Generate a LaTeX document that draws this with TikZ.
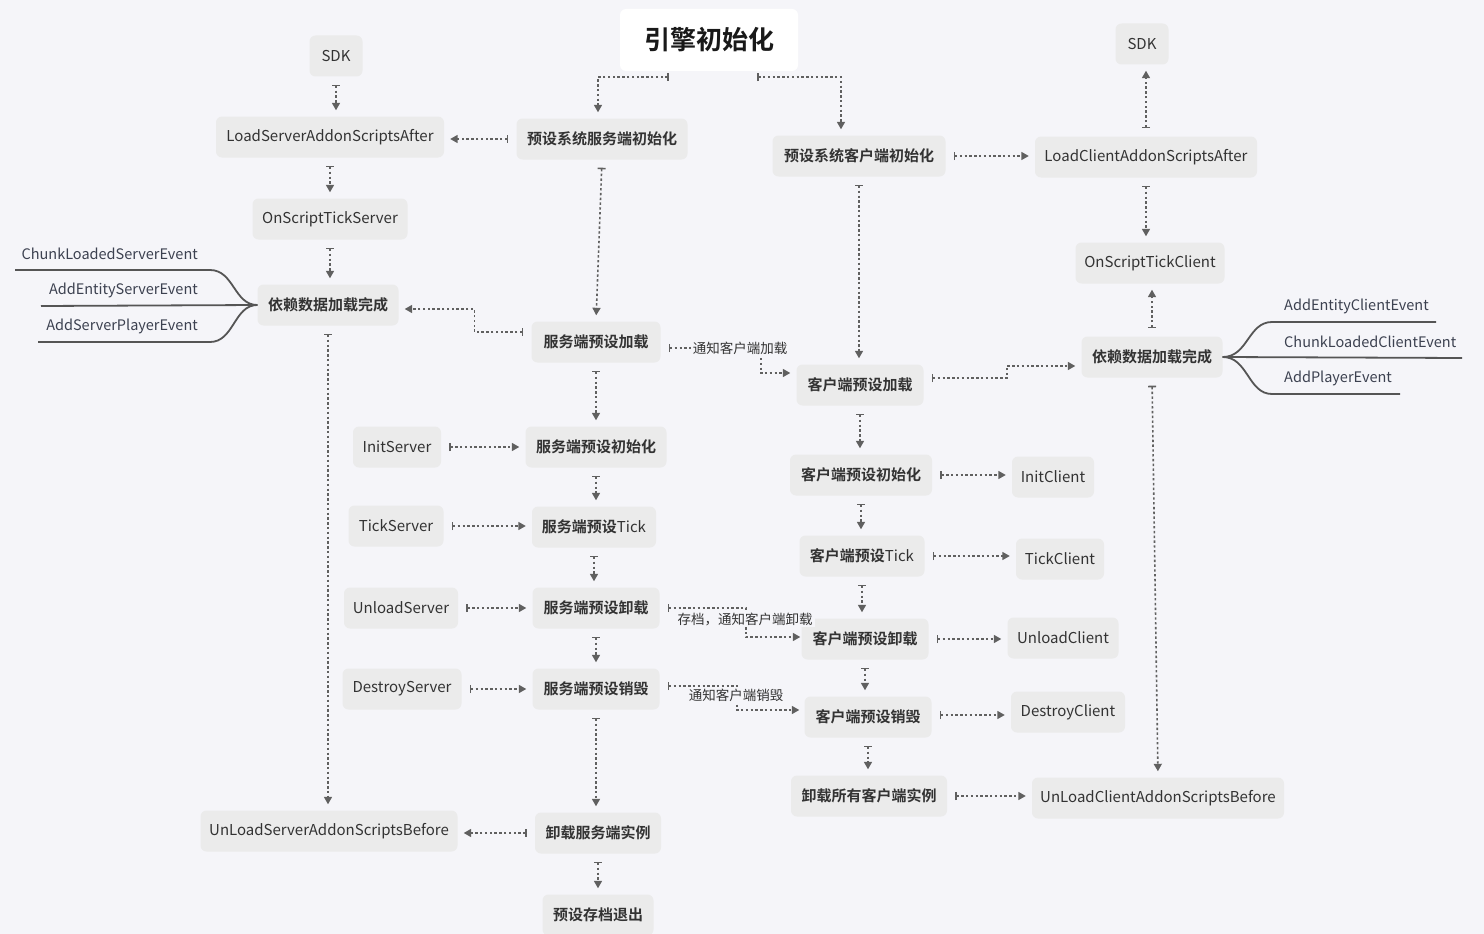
\documentclass[tikz,border=0pt]{standalone}
\usepackage{fontspec}
\setmainfont{Noto Sans CJK SC}[BoldFont={Noto Sans CJK SC Bold}]
\usetikzlibrary{arrows.meta,calc}
\definecolor{bg}{HTML}{F5F5F9}
\definecolor{nf}{HTML}{EBEBEB}
\definecolor{tx}{HTML}{333333}
\definecolor{lc}{HTML}{606060}
\definecolor{tr}{HTML}{555555}
\definecolor{evc}{HTML}{3C4150}
\begin{document}
\begin{tikzpicture}[x=1pt,y=-1pt,
 box/.style={rounded corners=6pt, fill=nf, text=tx, minimum height=41pt, inner sep=0pt, font=\fontsize{15}{18}\selectfont},
 zh/.style={box, font=\fontsize{15}{18}\selectfont\bfseries},
 conn/.style={draw=lc, line width=1.6pt, dash pattern=on 2.4pt off 2.4pt, arrows={Bar[width=8pt]-Triangle[width=8pt,length=7.5pt]}, shorten <=8pt, shorten >=6pt},
 lbl/.style={fill=bg, text=tx, inner sep=2pt, font=\fontsize{13.5}{15}\selectfont},
 ev/.style={text=evc, inner sep=0pt, font=\fontsize{14.5}{17}\selectfont},
 tree/.style={draw=tr, line width=1.8pt}]
\fill[bg] (0,0) rectangle (1484,934);
\useasboundingbox (0,0) rectangle (1484,934);

% title
\node[box, fill=white, minimum width=178pt, minimum height=62pt, text=black!90, font=\fontsize{26}{30}\selectfont\bfseries] (title) at (709,40) {引擎初始化};

% server side
\node[box, minimum width=53pt] (sdkL) at (336,56) {SDK};
\node[box, minimum width=228pt] (lsa) at (330,137) {LoadServerAddonScriptsAfter};
\node[box, minimum width=155pt] (ostS) at (330,219) {OnScriptTickServer};
\node[zh, minimum width=141pt] (depL) at (328,305) {依赖数据加载完成};
\node[zh, minimum width=171pt] (srvinit) at (602,139) {预设系统服务端初始化};
\node[zh, minimum width=129pt] (srvload) at (596,342) {服务端预设加载};
\node[box, minimum width=88pt] (initS) at (397,447) {InitServer};
\node[zh, minimum width=141pt] (srvpinit) at (596,447) {服务端预设初始化};
\node[box, minimum width=95pt] (tickS) at (396,526) {TickServer};
\node[box, minimum width=124pt] (srvtick) at (594,527) {\textbf{服务端预设}Tick};
\node[box, minimum width=114pt] (unloadS) at (401,608) {UnloadServer};
\node[zh, minimum width=127pt] (srvunload) at (596,608) {服务端预设卸载};
\node[box, minimum width=119pt] (destroyS) at (402,689) {DestroyServer};
\node[zh, minimum width=127pt] (srvdestroy) at (596,689) {服务端预设销毁};
\node[box, minimum width=257pt] (ulsb) at (329,831) {UnLoadServerAddonScriptsBefore};
\node[zh, minimum width=126pt] (srvexit) at (598,833) {卸载服务端实例};
\node[zh, minimum width=111pt] (quit) at (598,915) {预设存档退出};

% client side
\node[box, minimum width=53pt] (sdkR) at (1142,44) {SDK};
\node[zh, minimum width=173pt] (clinit) at (859,156) {预设系统客户端初始化};
\node[box, minimum width=222pt] (lca) at (1146,157) {LoadClientAddonScriptsAfter};
\node[box, minimum width=149pt] (ostC) at (1150,263) {OnScriptTickClient};
\node[zh, minimum width=141pt] (depR) at (1152,357) {依赖数据加载完成};
\node[zh, minimum width=127pt] (clload) at (860,385) {客户端预设加载};
\node[zh, minimum width=142pt] (clpinit) at (861,475) {客户端预设初始化};
\node[box, minimum width=82pt] (initC) at (1053,477) {InitClient};
\node[box, minimum width=125pt] (cltick) at (862,556) {\textbf{客户端预设}Tick};
\node[box, minimum width=88pt] (tickC) at (1060,559) {TickClient};
\node[zh, minimum width=127pt] (clunload) at (865,639) {客户端预设卸载};
\node[box, minimum width=111pt] (unloadC) at (1063,638) {UnloadClient};
\node[zh, minimum width=127pt] (cldestroy) at (868,717) {客户端预设销毁};
\node[box, minimum width=114pt] (destroyC) at (1068,712) {DestroyClient};
\node[zh, minimum width=156pt] (clexit) at (869,796) {卸载所有客户端实例};
\node[box, minimum width=252pt] (ulcb) at (1158,798) {UnLoadClientAddonScriptsBefore};

% event labels
\node[ev, anchor=east] (ev1) at (198,254) {ChunkLoadedServerEvent};
\node[ev, anchor=east] (ev2) at (198,290) {AddEntityServerEvent};
\node[ev, anchor=east] (ev3) at (198,326) {AddServerPlayerEvent};
\node[ev, anchor=west] (ev4) at (1284,306) {AddEntityClientEvent};
\node[ev, anchor=west] (ev5) at (1284,342) {ChunkLoadedClientEvent};
\node[ev, anchor=west] (ev6) at (1284,378) {AddPlayerEvent};

\coordinate (e1) at (15,270);
\coordinate (e2) at (41,306);
\coordinate (e3) at (38,342);
\coordinate (e4) at (1436,322);
\coordinate (e5) at (1462,358);
\coordinate (e6) at (1400,394);

\draw[tree] (depL.west) .. controls (234,305) and (234,270) .. (210,270) -- (e1);
\draw[tree] (depL.west) -- (e2);
\draw[tree] (depL.west) .. controls (234,305) and (234,342) .. (210,342) -- (e3);
\draw[tree] (depR.east) .. controls (1248,357) and (1248,322) .. (1272,322) -- (e4);
\draw[tree] (depR.east) -- (e5);
\draw[tree] (depR.east) .. controls (1248,357) and (1248,394) .. (1272,394) -- (e6);

% connectors: title
\coordinate (t1) at ($(title.south)+(-40pt,-6pt)$);
\coordinate (t2) at ($(title.south)+(48pt,-6pt)$);
\draw[conn, shorten <=0pt] (t1) -| ([xshift=-4pt]srvinit.north);
\draw[conn, shorten <=0pt] (t2) -| ([xshift=-18pt]clinit.north);

% server connectors
\draw[conn] (sdkL.south) -- (sdkL.south |- lsa.north);
\draw[conn] (srvinit.west) -- (srvinit.west -| lsa.east);
\draw[conn] (lsa.south) -- (lsa.south |- ostS.north);
\draw[conn] (ostS.south) -- (ostS.south |- depL.north);
\draw[conn] ([yshift=10pt]srvload.west) -- ++(-57,0) |- ([yshift=-4pt]depL.east);
\draw[conn] (depL.south) -- (depL.south |- ulsb.north);
\draw[conn] (srvinit.south) -- (srvload.north);
\draw[conn] (srvload.south) -- (srvload.south |- srvpinit.north);
\draw[conn] (initS.east) -- (initS.east -| srvpinit.west);
\draw[conn] (srvpinit.south) -- (srvpinit.south |- srvtick.north);
\draw[conn] (tickS.east) -- (tickS.east -| srvtick.west);
\draw[conn] (srvtick.south) -- (srvtick.south |- srvunload.north);
\draw[conn] (unloadS.east) -- (unloadS.east -| srvunload.west);
\draw[conn] (srvunload.south) -- (srvunload.south |- srvdestroy.north);
\draw[conn] (destroyS.east) -- (destroyS.east -| srvdestroy.west);
\draw[conn] (srvdestroy.south) -- (srvdestroy.south |- srvexit.north);
\draw[conn] (srvexit.west) -- (srvexit.west -| ulsb.east);
\draw[conn] (srvexit.south) -- (srvexit.south |- quit.north);

% cross connectors with labels
\draw[conn] ([yshift=-6pt]srvload.east) -- ++(100,0) |- ([yshift=12pt]clload.west);
\node[lbl] (l1) at (740,348) {通知客户端加载};
\draw[conn, shorten >=1pt] (srvunload.east) -- ++(86,0) |- ([yshift=2pt]clunload.west);
\node[lbl] (l2) at (745,619) {存档，通知客户端卸载};
\draw[conn, shorten >=5pt] ([yshift=3pt]srvdestroy.east) -- ++(77,0) |- ([yshift=7pt]cldestroy.west);
\node[lbl] (l3) at (736,695) {通知客户端销毁};

% client connectors
\draw[conn] (lca.north) -- (lca.north |- sdkR.south);
\draw[conn] (clinit.east) -- (clinit.east -| lca.west);
\draw[conn] (lca.south) -- (lca.south |- ostC.north);
\draw[conn] (depR.north) -- (depR.north |- ostC.south);
\draw[conn] (clinit.south) -- (clinit.south |- clload.north);
\draw[conn] ([yshift=7pt]clload.east) -- ++(83,0) |- ([yshift=-9pt]depR.west);
\draw[conn] (depR.south) -- (ulcb.north);
\draw[conn] (clload.south) -- (clload.south |- clpinit.north);
\draw[conn] (clpinit.east) -- (clpinit.east -| initC.west);
\draw[conn] (clpinit.south) -- (clpinit.south |- cltick.north);
\draw[conn] (cltick.east) -- (cltick.east -| tickC.west);
\draw[conn] (cltick.south) -- (cltick.south |- clunload.north);
\draw[conn] (clunload.east) -- (clunload.east -| unloadC.west);
\draw[conn] (clunload.south) -- (clunload.south |- cldestroy.north);
\draw[conn] ([yshift=2pt]cldestroy.east) -- ([yshift=2pt]cldestroy.east -| destroyC.west);
\draw[conn] (cldestroy.south) -- (cldestroy.south |- clexit.north);
\draw[conn] (clexit.east) -- (clexit.east -| ulcb.west);
\end{tikzpicture}
\end{document}
